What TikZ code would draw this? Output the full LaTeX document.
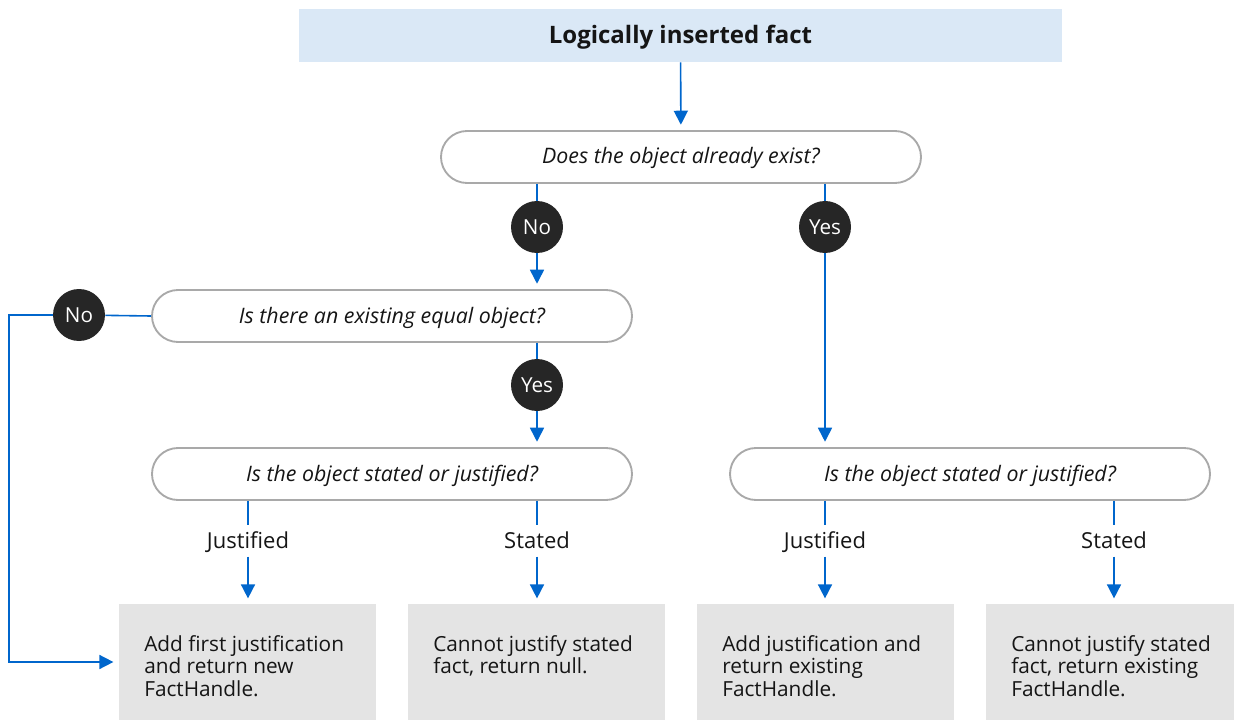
\documentclass[tikz,border=0pt]{standalone}
\usepackage{fontspec}
\setmainfont{Open Sans}
\usetikzlibrary{arrows.meta}
\definecolor{rhblue}{HTML}{0066CC}
\definecolor{titlefill}{HTML}{DAE8F6}
\definecolor{boxfill}{HTML}{E4E4E4}
\definecolor{pillline}{HTML}{A9A9A9}
\definecolor{ink}{HTML}{151515}
\definecolor{dotfill}{HTML}{262626}
\begin{document}
\begin{tikzpicture}[x=0.75pt,y=-0.75pt,
  titlebox/.style={fill=titlefill, minimum width=572pt, minimum height=40pt, inner sep=0pt, text=ink, text height=13pt, text depth=1pt, font=\bfseries\fontsize{18}{21}\selectfont},
  pill/.style={draw=pillline, line width=1.4pt, fill=white, rounded corners=19.5pt, minimum width=360pt, minimum height=39pt, inner sep=0pt, text=ink, text height=12pt, text depth=1.5pt, font=\itshape\fontsize{16}{19}\selectfont},
  dotnode/.style={circle, fill=dotfill, minimum size=39pt, inner sep=0pt, text=white, text height=11pt, text depth=0pt, font=\fontsize{15.5}{18}\selectfont},
  lbl/.style={inner sep=0pt, minimum height=23pt, text=ink, text height=12pt, text depth=1.5pt, font=\fontsize{16.5}{19}\selectfont},
  result/.style={fill=boxfill, minimum width=192.75pt, minimum height=87pt, inner sep=0pt},
  restext/.style={anchor=north west, inner sep=0pt, align=left, text=ink, font=\fontsize{15.6}{17}\selectfont},
  flow/.style={draw=rhblue, line width=1.2pt},
  arr/.style={flow, -{Triangle[length=10.5pt,width=10.5pt]}, shorten >=4pt}
]
\useasboundingbox (0,0) rectangle (1234,720);

% nodes
\node[titlebox] (title) at (680.5,35.5) {Logically inserted fact};
\node[pill] (d1) at (681,157) {Does the object already exist?};
\node[pill] (d2) at (392,316) {Is there an existing equal object?};
\node[pill] (d4) at (392,474) {Is the object stated or justified?};
\node[pill] (d3) at (970,474) {Is the object stated or justified?};

\node[dotnode] (no1) at (537,227) {No};
\node[dotnode] (yes1) at (825,227) {Yes};
\node[dotnode] (no2) at (79,315) {No};
\node[dotnode] (yes2) at (537,385) {Yes};

\node[lbl] (j1) at (248,541) {Justified};
\node[lbl] (s1) at (537,541) {Stated};
\node[lbl] (j2) at (825,541) {Justified};
\node[lbl] (s2) at (1114,541) {Stated};

\node[result] (b1) at (247.5,662) {};
\node[result] (b2) at (536.5,662) {};
\node[result] (b3) at (825.5,662) {};
\node[result] (b4) at (1114.5,662) {};

\node[restext] (t1) at (144,635) {Add first justification\\and return new\\FactHandle.};
\node[restext] (t2) at (433,635) {Cannot justify stated\\fact, return null.};
\node[restext] (t3) at (722,635) {Add justification and\\return existing\\FactHandle.};
\node[restext] (t4) at (1011,635) {Cannot justify stated\\fact, return existing\\FactHandle.};

\coordinate (corner) at (9,315);

% connectors
\draw[arr] (title) -- (d1);
\draw[flow] (d1.south -| no1) -- (no1);
\draw[arr] (no1) -- (d2.north -| no1);
\draw[flow] (d1.south -| yes1) -- (yes1);
\draw[arr] (yes1) -- (d3.north -| yes1);
\draw[flow] (d2.south -| yes2) -- (yes2);
\draw[arr] (yes2) -- (d4.north -| yes2);
\draw[flow] (d2.west) -- (no2);
\draw[arr] (no2) -- (corner) |- (b1.west);

\draw[flow] (d4.south -| j1) -- (j1);
\draw[arr] (j1) -- (b1.north -| j1);
\draw[flow] (d4.south -| s1) -- (s1);
\draw[arr] (s1) -- (b2.north -| s1);
\draw[flow] (d3.south -| j2) -- (j2);
\draw[arr] (j2) -- (b3.north -| j2);
\draw[flow] (d3.south -| s2) -- (s2);
\draw[arr] (s2) -- (b4.north -| s2);
\end{tikzpicture}
\end{document}
